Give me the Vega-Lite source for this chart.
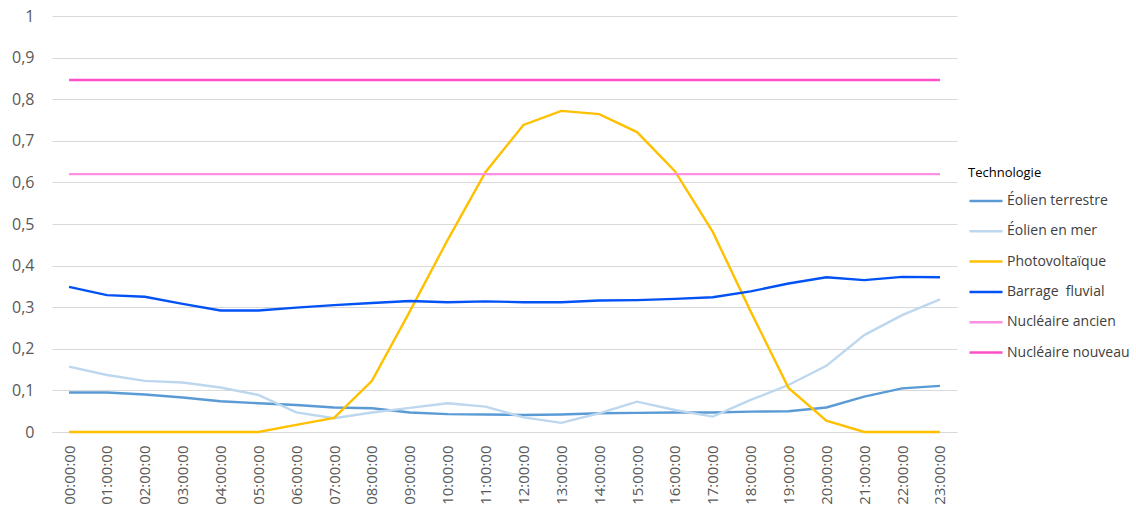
{
  "$schema": "https://vega.github.io/schema/vega-lite/v6.json",
  "autosize": "none",
  "width": 905,
  "height": 416,
  "padding": {"left": 52, "top": 16, "right": 179, "bottom": 85},
  "background": "white",
  "config": {
    "locale": {"number": {"decimal": ",", "thousands": " ", "grouping": [3], "currency": ["", " €"]}},
    "view": {"stroke": null},
    "font": "Open Sans"
  },
  "data": {"values": [
    {"heure":"00:00:00","technologie":"Éolien terrestre","valeur":0.095},
    {"heure":"01:00:00","technologie":"Éolien terrestre","valeur":0.095},
    {"heure":"02:00:00","technologie":"Éolien terrestre","valeur":0.090},
    {"heure":"03:00:00","technologie":"Éolien terrestre","valeur":0.083},
    {"heure":"04:00:00","technologie":"Éolien terrestre","valeur":0.074},
    {"heure":"05:00:00","technologie":"Éolien terrestre","valeur":0.069},
    {"heure":"06:00:00","technologie":"Éolien terrestre","valeur":0.065},
    {"heure":"07:00:00","technologie":"Éolien terrestre","valeur":0.059},
    {"heure":"08:00:00","technologie":"Éolien terrestre","valeur":0.057},
    {"heure":"09:00:00","technologie":"Éolien terrestre","valeur":0.047},
    {"heure":"10:00:00","technologie":"Éolien terrestre","valeur":0.043},
    {"heure":"11:00:00","technologie":"Éolien terrestre","valeur":0.042},
    {"heure":"12:00:00","technologie":"Éolien terrestre","valeur":0.041},
    {"heure":"13:00:00","technologie":"Éolien terrestre","valeur":0.042},
    {"heure":"14:00:00","technologie":"Éolien terrestre","valeur":0.045},
    {"heure":"15:00:00","technologie":"Éolien terrestre","valeur":0.046},
    {"heure":"16:00:00","technologie":"Éolien terrestre","valeur":0.047},
    {"heure":"17:00:00","technologie":"Éolien terrestre","valeur":0.047},
    {"heure":"18:00:00","technologie":"Éolien terrestre","valeur":0.049},
    {"heure":"19:00:00","technologie":"Éolien terrestre","valeur":0.050},
    {"heure":"20:00:00","technologie":"Éolien terrestre","valeur":0.059},
    {"heure":"21:00:00","technologie":"Éolien terrestre","valeur":0.085},
    {"heure":"22:00:00","technologie":"Éolien terrestre","valeur":0.105},
    {"heure":"23:00:00","technologie":"Éolien terrestre","valeur":0.111},
    {"heure":"00:00:00","technologie":"Éolien en mer","valeur":0.157},
    {"heure":"01:00:00","technologie":"Éolien en mer","valeur":0.137},
    {"heure":"02:00:00","technologie":"Éolien en mer","valeur":0.123},
    {"heure":"03:00:00","technologie":"Éolien en mer","valeur":0.119},
    {"heure":"04:00:00","technologie":"Éolien en mer","valeur":0.107},
    {"heure":"05:00:00","technologie":"Éolien en mer","valeur":0.089},
    {"heure":"06:00:00","technologie":"Éolien en mer","valeur":0.047},
    {"heure":"07:00:00","technologie":"Éolien en mer","valeur":0.033},
    {"heure":"08:00:00","technologie":"Éolien en mer","valeur":0.047},
    {"heure":"09:00:00","technologie":"Éolien en mer","valeur":0.058},
    {"heure":"10:00:00","technologie":"Éolien en mer","valeur":0.069},
    {"heure":"11:00:00","technologie":"Éolien en mer","valeur":0.061},
    {"heure":"12:00:00","technologie":"Éolien en mer","valeur":0.035},
    {"heure":"13:00:00","technologie":"Éolien en mer","valeur":0.022},
    {"heure":"14:00:00","technologie":"Éolien en mer","valeur":0.045},
    {"heure":"15:00:00","technologie":"Éolien en mer","valeur":0.073},
    {"heure":"16:00:00","technologie":"Éolien en mer","valeur":0.053},
    {"heure":"17:00:00","technologie":"Éolien en mer","valeur":0.037},
    {"heure":"18:00:00","technologie":"Éolien en mer","valeur":0.077},
    {"heure":"19:00:00","technologie":"Éolien en mer","valeur":0.113},
    {"heure":"20:00:00","technologie":"Éolien en mer","valeur":0.159},
    {"heure":"21:00:00","technologie":"Éolien en mer","valeur":0.233},
    {"heure":"22:00:00","technologie":"Éolien en mer","valeur":0.281},
    {"heure":"23:00:00","technologie":"Éolien en mer","valeur":0.319},
    {"heure":"00:00:00","technologie":"Photovoltaïque","valeur":0},
    {"heure":"01:00:00","technologie":"Photovoltaïque","valeur":0},
    {"heure":"02:00:00","technologie":"Photovoltaïque","valeur":0},
    {"heure":"03:00:00","technologie":"Photovoltaïque","valeur":0},
    {"heure":"04:00:00","technologie":"Photovoltaïque","valeur":0},
    {"heure":"05:00:00","technologie":"Photovoltaïque","valeur":0},
    {"heure":"06:00:00","technologie":"Photovoltaïque","valeur":0.017},
    {"heure":"07:00:00","technologie":"Photovoltaïque","valeur":0.034},
    {"heure":"08:00:00","technologie":"Photovoltaïque","valeur":0.123},
    {"heure":"09:00:00","technologie":"Photovoltaïque","valeur":0.29},
    {"heure":"10:00:00","technologie":"Photovoltaïque","valeur":0.462},
    {"heure":"11:00:00","technologie":"Photovoltaïque","valeur":0.625},
    {"heure":"12:00:00","technologie":"Photovoltaïque","valeur":0.738},
    {"heure":"13:00:00","technologie":"Photovoltaïque","valeur":0.772},
    {"heure":"14:00:00","technologie":"Photovoltaïque","valeur":0.764},
    {"heure":"15:00:00","technologie":"Photovoltaïque","valeur":0.721},
    {"heure":"16:00:00","technologie":"Photovoltaïque","valeur":0.627},
    {"heure":"17:00:00","technologie":"Photovoltaïque","valeur":0.481},
    {"heure":"18:00:00","technologie":"Photovoltaïque","valeur":0.29},
    {"heure":"19:00:00","technologie":"Photovoltaïque","valeur":0.106},
    {"heure":"20:00:00","technologie":"Photovoltaïque","valeur":0.027},
    {"heure":"21:00:00","technologie":"Photovoltaïque","valeur":0},
    {"heure":"22:00:00","technologie":"Photovoltaïque","valeur":0},
    {"heure":"23:00:00","technologie":"Photovoltaïque","valeur":0},
    {"heure":"00:00:00","technologie":"Barrage\u00a0 fluvial","valeur":0.349},
    {"heure":"01:00:00","technologie":"Barrage\u00a0 fluvial","valeur":0.329},
    {"heure":"02:00:00","technologie":"Barrage\u00a0 fluvial","valeur":0.325},
    {"heure":"03:00:00","technologie":"Barrage\u00a0 fluvial","valeur":0.308},
    {"heure":"04:00:00","technologie":"Barrage\u00a0 fluvial","valeur":0.292},
    {"heure":"05:00:00","technologie":"Barrage\u00a0 fluvial","valeur":0.292},
    {"heure":"06:00:00","technologie":"Barrage\u00a0 fluvial","valeur":0.299},
    {"heure":"07:00:00","technologie":"Barrage\u00a0 fluvial","valeur":0.305},
    {"heure":"08:00:00","technologie":"Barrage\u00a0 fluvial","valeur":0.310},
    {"heure":"09:00:00","technologie":"Barrage\u00a0 fluvial","valeur":0.315},
    {"heure":"10:00:00","technologie":"Barrage\u00a0 fluvial","valeur":0.312},
    {"heure":"11:00:00","technologie":"Barrage\u00a0 fluvial","valeur":0.314},
    {"heure":"12:00:00","technologie":"Barrage\u00a0 fluvial","valeur":0.312},
    {"heure":"13:00:00","technologie":"Barrage\u00a0 fluvial","valeur":0.312},
    {"heure":"14:00:00","technologie":"Barrage\u00a0 fluvial","valeur":0.316},
    {"heure":"15:00:00","technologie":"Barrage\u00a0 fluvial","valeur":0.317},
    {"heure":"16:00:00","technologie":"Barrage\u00a0 fluvial","valeur":0.320},
    {"heure":"17:00:00","technologie":"Barrage\u00a0 fluvial","valeur":0.324},
    {"heure":"18:00:00","technologie":"Barrage\u00a0 fluvial","valeur":0.338},
    {"heure":"19:00:00","technologie":"Barrage\u00a0 fluvial","valeur":0.357},
    {"heure":"20:00:00","technologie":"Barrage\u00a0 fluvial","valeur":0.372},
    {"heure":"21:00:00","technologie":"Barrage\u00a0 fluvial","valeur":0.365},
    {"heure":"22:00:00","technologie":"Barrage\u00a0 fluvial","valeur":0.373},
    {"heure":"23:00:00","technologie":"Barrage\u00a0 fluvial","valeur":0.372},
    {"heure":"00:00:00","technologie":"Nucléaire ancien","valeur":0.62},
    {"heure":"01:00:00","technologie":"Nucléaire ancien","valeur":0.62},
    {"heure":"02:00:00","technologie":"Nucléaire ancien","valeur":0.62},
    {"heure":"03:00:00","technologie":"Nucléaire ancien","valeur":0.62},
    {"heure":"04:00:00","technologie":"Nucléaire ancien","valeur":0.62},
    {"heure":"05:00:00","technologie":"Nucléaire ancien","valeur":0.62},
    {"heure":"06:00:00","technologie":"Nucléaire ancien","valeur":0.62},
    {"heure":"07:00:00","technologie":"Nucléaire ancien","valeur":0.62},
    {"heure":"08:00:00","technologie":"Nucléaire ancien","valeur":0.62},
    {"heure":"09:00:00","technologie":"Nucléaire ancien","valeur":0.62},
    {"heure":"10:00:00","technologie":"Nucléaire ancien","valeur":0.62},
    {"heure":"11:00:00","technologie":"Nucléaire ancien","valeur":0.62},
    {"heure":"12:00:00","technologie":"Nucléaire ancien","valeur":0.62},
    {"heure":"13:00:00","technologie":"Nucléaire ancien","valeur":0.62},
    {"heure":"14:00:00","technologie":"Nucléaire ancien","valeur":0.62},
    {"heure":"15:00:00","technologie":"Nucléaire ancien","valeur":0.62},
    {"heure":"16:00:00","technologie":"Nucléaire ancien","valeur":0.62},
    {"heure":"17:00:00","technologie":"Nucléaire ancien","valeur":0.62},
    {"heure":"18:00:00","technologie":"Nucléaire ancien","valeur":0.62},
    {"heure":"19:00:00","technologie":"Nucléaire ancien","valeur":0.62},
    {"heure":"20:00:00","technologie":"Nucléaire ancien","valeur":0.62},
    {"heure":"21:00:00","technologie":"Nucléaire ancien","valeur":0.62},
    {"heure":"22:00:00","technologie":"Nucléaire ancien","valeur":0.62},
    {"heure":"23:00:00","technologie":"Nucléaire ancien","valeur":0.62},
    {"heure":"00:00:00","technologie":"Nucléaire nouveau","valeur":0.846},
    {"heure":"01:00:00","technologie":"Nucléaire nouveau","valeur":0.846},
    {"heure":"02:00:00","technologie":"Nucléaire nouveau","valeur":0.846},
    {"heure":"03:00:00","technologie":"Nucléaire nouveau","valeur":0.846},
    {"heure":"04:00:00","technologie":"Nucléaire nouveau","valeur":0.846},
    {"heure":"05:00:00","technologie":"Nucléaire nouveau","valeur":0.846},
    {"heure":"06:00:00","technologie":"Nucléaire nouveau","valeur":0.846},
    {"heure":"07:00:00","technologie":"Nucléaire nouveau","valeur":0.846},
    {"heure":"08:00:00","technologie":"Nucléaire nouveau","valeur":0.846},
    {"heure":"09:00:00","technologie":"Nucléaire nouveau","valeur":0.846},
    {"heure":"10:00:00","technologie":"Nucléaire nouveau","valeur":0.846},
    {"heure":"11:00:00","technologie":"Nucléaire nouveau","valeur":0.846},
    {"heure":"12:00:00","technologie":"Nucléaire nouveau","valeur":0.846},
    {"heure":"13:00:00","technologie":"Nucléaire nouveau","valeur":0.846},
    {"heure":"14:00:00","technologie":"Nucléaire nouveau","valeur":0.846},
    {"heure":"15:00:00","technologie":"Nucléaire nouveau","valeur":0.846},
    {"heure":"16:00:00","technologie":"Nucléaire nouveau","valeur":0.846},
    {"heure":"17:00:00","technologie":"Nucléaire nouveau","valeur":0.846},
    {"heure":"18:00:00","technologie":"Nucléaire nouveau","valeur":0.846},
    {"heure":"19:00:00","technologie":"Nucléaire nouveau","valeur":0.846},
    {"heure":"20:00:00","technologie":"Nucléaire nouveau","valeur":0.846},
    {"heure":"21:00:00","technologie":"Nucléaire nouveau","valeur":0.846},
    {"heure":"22:00:00","technologie":"Nucléaire nouveau","valeur":0.846},
    {"heure":"23:00:00","technologie":"Nucléaire nouveau","valeur":0.846}
  ]},
  "mark": {"type": "line", "strokeWidth": 2.4, "interpolate": "linear"},
  "encoding": {
    "x": {
      "field": "heure", "type": "ordinal", "sort": null,
      "scale": {"type": "point", "padding": 0.45},
      "axis": {
        "title": null, "labelAngle": -90, "labelFontSize": 15, "labelColor": "#595959",
        "labelPadding": 13, "ticks": false, "domainColor": "#d9d9d9", "domainWidth": 1,
        "grid": false
      }
    },
    "y": {
      "field": "valeur", "type": "quantitative",
      "scale": {"domain": [0, 1], "nice": false, "zero": true},
      "axis": {
        "title": null, "values": [0, 0.1, 0.2, 0.3, 0.4, 0.5, 0.6, 0.7, 0.8, 0.9, 1],
        "format": "~g", "labelFontSize": 16, "labelColor": "#595959", "labelPadding": 18,
        "ticks": false, "domain": false, "gridColor": "#d9d9d9", "gridWidth": 1
      }
    },
    "color": {
      "field": "technologie", "type": "nominal",
      "scale": {
        "domain": ["Éolien terrestre", "Éolien en mer", "Photovoltaïque", "Barrage\u00a0 fluvial", "Nucléaire ancien", "Nucléaire nouveau"],
        "range": ["#5B9BD5", "#BDD7EE", "#FFC000", "#0052F5", "#FF8FE0", "#FF4FC8"]
      },
      "legend": {
        "title": "Technologie", "orient": "none", "legendX": 916, "legendY": 151,
        "titleFontSize": 13, "titleFontWeight": "normal", "titleColor": "#000000", "titlePadding": 3,
        "labelFontSize": 14, "labelColor": "#404040", "labelOffset": 3,
        "symbolType": "stroke", "symbolStrokeWidth": 2.5, "symbolSize": 1089, "rowPadding": 5.3
      }
    }
  }
}
